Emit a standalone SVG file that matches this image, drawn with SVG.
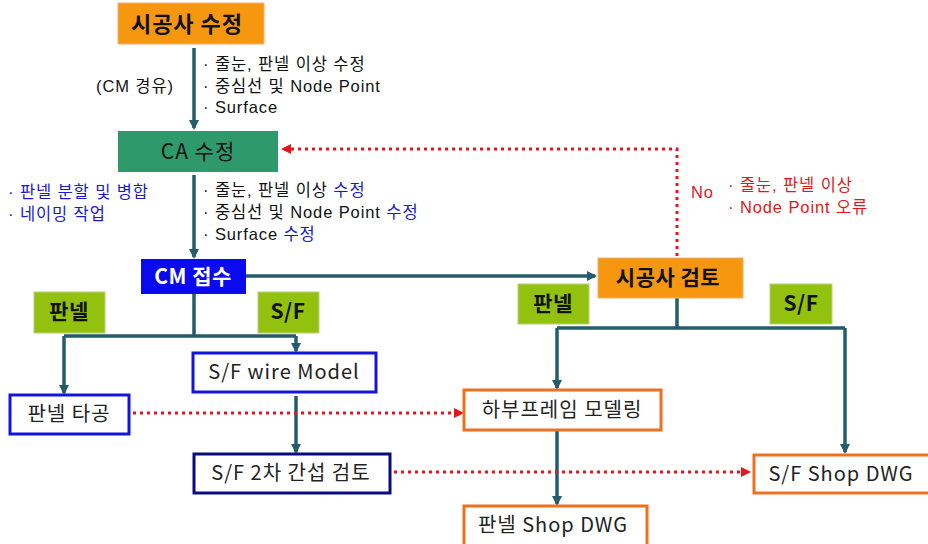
<svg xmlns="http://www.w3.org/2000/svg" width="928" height="544" viewBox="0 0 928 544">
<defs>
<marker id="ah" markerWidth="10" markerHeight="10" refX="8" refY="5" orient="auto" markerUnits="userSpaceOnUse"><path d="M0,0 L10,5 L0,10 z" fill="#245C6B"/></marker>
<marker id="rh" markerWidth="10" markerHeight="10" refX="8" refY="5" orient="auto" markerUnits="userSpaceOnUse"><path d="M0,0 L10,5 L0,10 z" fill="#E8141C"/></marker>
<style>
text{font-family:"Noto Sans CJK KR","Liberation Sans",sans-serif;}
.c{stroke:#245C6B;stroke-width:3.5;fill:none;}
.r{stroke:#E8141C;stroke-width:3;fill:none;stroke-dasharray:3 4;}
.orange{fill:#F7970F;stroke:#F0B070;stroke-width:1;}
.lbl{fill:#92C20E;stroke:#B8D080;stroke-width:1;}
.bw{fill:#fff;stroke:#1414E0;stroke-width:3;}
.bn{fill:#fff;stroke:#0A0A80;stroke-width:3;}
.bo{fill:#fff;stroke:#EE7021;stroke-width:3;}
.t{font-size:20px;letter-spacing:1px;fill:#222;text-anchor:middle;}
.tb{font-size:21px;letter-spacing:0.5px;font-weight:bold;fill:#111;text-anchor:middle;}
.s{font-family:"Liberation Sans","Noto Sans CJK KR",sans-serif;font-size:16.5px;letter-spacing:0.9px;fill:#111;}
.blue{fill:#1A1AC8;}
.red{fill:#E01818;}
</style>
</defs>
<g id="connectors">
<path class="c" d="M194,48 V128" marker-end="url(#ah)"/>
<path class="c" d="M194,175 V257" marker-end="url(#ah)"/>
<path class="c" d="M246,276 H595" marker-end="url(#ah)"/>
<path class="c" d="M194,294 V336 M64,336 H296"/>
<path class="c" d="M64,336 V393" marker-end="url(#ah)"/>
<path class="c" d="M296,336 V351" marker-end="url(#ah)"/>
<path class="c" d="M296,396 V452" marker-end="url(#ah)"/>
<path class="c" d="M677,298 V328 M557,328 H845"/>
<path class="c" d="M557,328 V388" marker-end="url(#ah)"/>
<path class="c" d="M845,328 V452" marker-end="url(#ah)"/>
<path class="c" d="M557,430 V504" marker-end="url(#ah)"/>
<path class="r" d="M677,256 V149 H283" marker-end="url(#rh)"/>
<path class="r" d="M133,413 H462" marker-end="url(#rh)"/>
<path class="r" d="M394,472 H749" marker-end="url(#rh)"/>
</g>
<g id="n-sigongsa-sujeong"><rect class="orange" x="118" y="3" width="146" height="41"/><text class="tb" x="187" y="32" style="font-size:22px;letter-spacing:1px">시공사 수정</text></g>
<g id="n-ca-sujeong"><rect x="118" y="131" width="160" height="41" fill="#2E9A6C"/><text class="t" x="198" y="159" style="fill:#111;font-size:21px">CA 수정</text></g>
<g id="n-cm-jeopsu"><rect x="141" y="259" width="105" height="35" fill="#0A0AEE"/><text class="tb" x="193" y="284" style="fill:#fff">CM 접수</text></g>
<g id="n-sigongsa-geomto"><rect class="orange" x="598" y="258" width="145" height="40"/><text class="tb" x="668" y="285">시공사 검토</text></g>
<g id="l-panel1"><rect class="lbl" x="34" y="292" width="71" height="41"/><text class="tb" x="69" y="319">판넬</text></g>
<g id="l-sf1"><rect class="lbl" x="258" y="292" width="61" height="41"/><text class="tb" x="288" y="319">S/F</text></g>
<g id="l-panel2"><rect class="lbl" x="518" y="284" width="71" height="40"/><text class="tb" x="553" y="311">판넬</text></g>
<g id="l-sf2"><rect class="lbl" x="770" y="284" width="62" height="40"/><text class="tb" x="801" y="311">S/F</text></g>
<g id="n-sf-wire"><rect class="bw" x="193" y="353" width="183" height="39"/><text class="t" x="284" y="379">S/F wire Model</text></g>
<g id="n-panel-tagong"><rect class="bw" x="10" y="395" width="119" height="39"/><text class="t" x="69" y="421">판넬 타공</text></g>
<g id="n-sf-2cha"><rect class="bn" x="194" y="454" width="196" height="39"/><text class="t" x="291" y="480">S/F 2차 간섭 검토</text></g>
<g id="n-habu"><rect class="bo" x="464" y="390" width="197" height="40"/><text class="t" x="562" y="417">하부프레임 모델링</text></g>
<g id="n-panel-shop"><rect class="bo" x="464" y="506" width="183" height="40"/><text class="t" x="553" y="532">판넬 Shop DWG</text></g>
<g id="n-sf-shop"><rect class="bo" x="754" y="455" width="180" height="38"/><text class="t" x="841" y="481">S/F Shop DWG</text></g>
<g id="annotations">
<text class="s" x="96" y="92">(CM 경유)</text>
<text class="s" x="203" y="70">· 줄눈, 판넬 이상 수정</text>
<text class="s" x="203" y="92">· 중심선 및 Node Point</text>
<text class="s" x="203" y="113">· Surface</text>
<text class="s blue" x="8" y="198">· 판넬 분할 및 병합</text>
<text class="s blue" x="8" y="220">· 네이밍 작업</text>
<text class="s" x="203" y="196">· 줄눈, 판넬 이상 <tspan class="blue">수정</tspan></text>
<text class="s" x="203" y="218">· 중심선 및 Node Point <tspan class="blue">수정</tspan></text>
<text class="s" x="203" y="240">· Surface <tspan class="blue">수정</tspan></text>
<text class="s red" x="691" y="198">No</text>
<text class="s red" x="728" y="191">· 줄눈, 판넬 이상</text>
<text class="s red" x="728" y="213">· Node Point 오류</text>
</g>
</svg>
